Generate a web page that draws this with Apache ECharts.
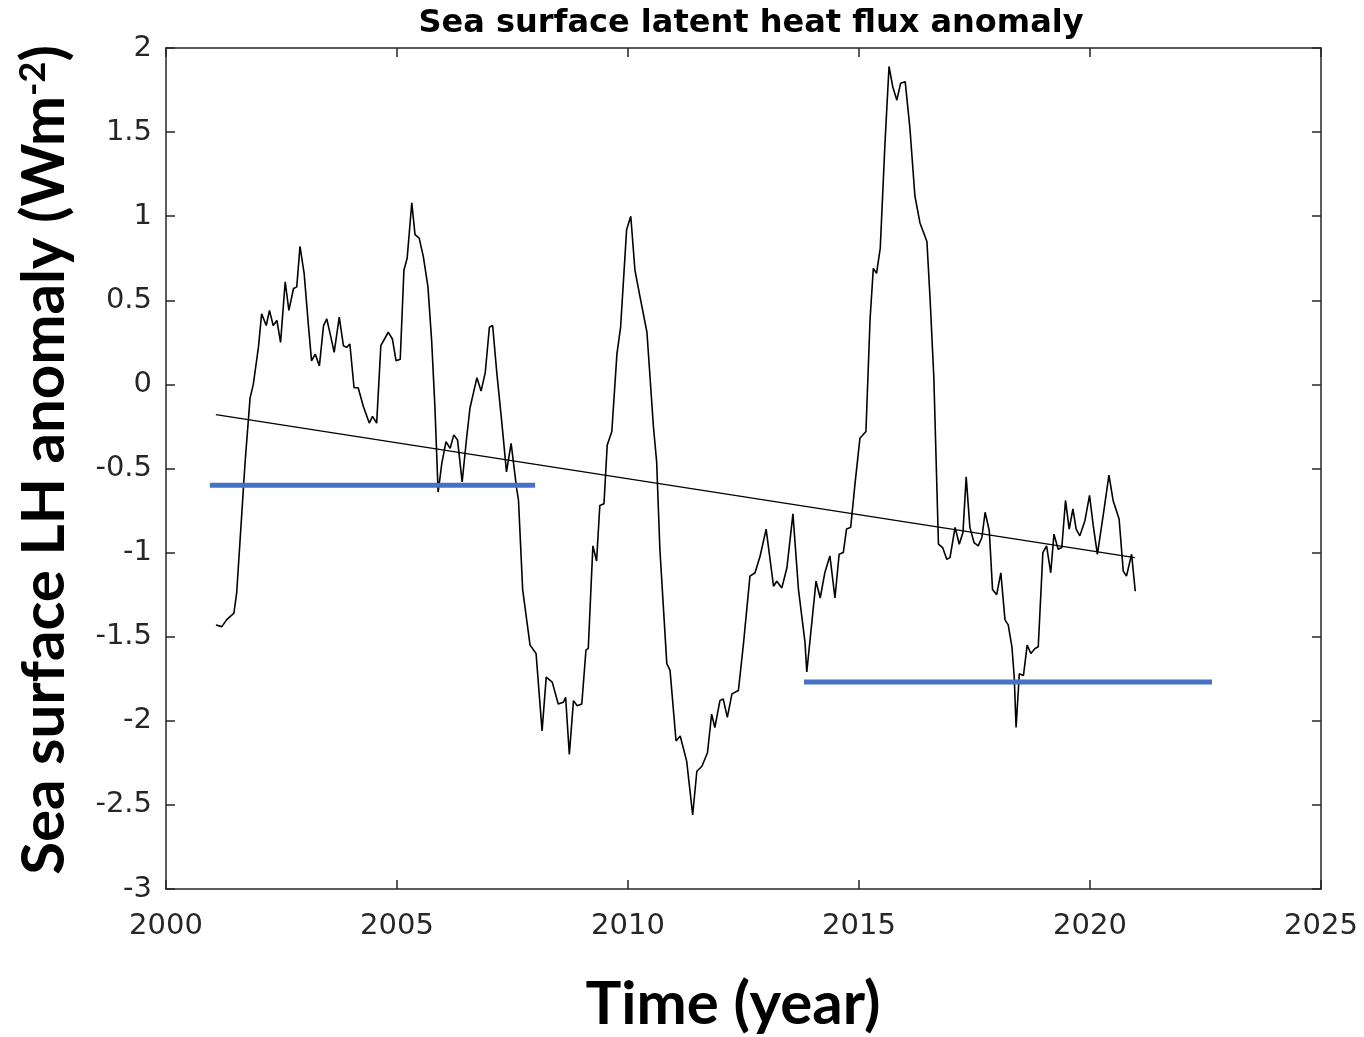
<!DOCTYPE html>
<html>
<head>
<meta charset="utf-8">
<script src="https://cdn.jsdelivr.net/npm/echarts@6/dist/echarts.min.js"></script>
<style>html,body{margin:0;padding:0;background:#fff;}#c{width:1364px;height:1037px;}</style>
</head>
<body>
<div id="c"></div>
<script>
// Time (decimal year)
const years = [
2001.08,2001.21,2001.31,2001.47,2001.53,2001.64,2001.71,2001.82,2001.89,2002.00,
2002.07,2002.17,2002.24,2002.32,2002.40,2002.48,2002.58,2002.66,2002.76,2002.83,
2002.90,2002.99,2003.08,2003.15,2003.23,2003.32,2003.41,2003.48,2003.57,2003.64,
2003.75,2003.84,2003.91,2003.98,2004.07,2004.16,2004.27,2004.40,2004.47,2004.56,
2004.65,2004.81,2004.90,2004.98,2005.07,2005.15,2005.22,2005.32,2005.39,2005.48,
2005.57,2005.67,2005.75,2005.82,2005.89,2005.97,2006.06,2006.15,2006.23,2006.31,
2006.41,2006.51,2006.58,2006.73,2006.82,2006.91,2007.00,2007.07,2007.16,2007.27,
2007.37,2007.47,2007.59,2007.63,2007.72,2007.88,2008.01,2008.14,2008.23,2008.36,
2008.49,2008.60,2008.65,2008.73,2008.82,2008.90,2009.00,2009.09,2009.14,2009.24,
2009.32,2009.39,2009.48,2009.55,2009.65,2009.76,2009.84,2009.97,2010.06,2010.15,
2010.26,2010.41,2010.55,2010.62,2010.69,2010.84,2010.91,2011.04,2011.13,2011.27,
2011.40,2011.49,2011.60,2011.72,2011.81,2011.88,2011.99,2012.06,2012.15,2012.25,
2012.39,2012.50,2012.64,2012.75,2012.86,2012.99,2013.15,2013.22,2013.33,2013.44,
2013.57,2013.69,2013.83,2013.87,2014.07,2014.16,2014.26,2014.37,2014.48,2014.57,
2014.66,2014.73,2014.82,2014.91,2015.02,2015.15,2015.24,2015.31,2015.38,2015.46,
2015.56,2015.65,2015.73,2015.82,2015.90,2016.00,2016.10,2016.21,2016.32,2016.47,
2016.54,2016.62,2016.72,2016.81,2016.90,2016.97,2017.08,2017.17,2017.25,2017.32,
2017.40,2017.49,2017.58,2017.66,2017.73,2017.82,2017.89,2017.98,2018.07,2018.16,
2018.23,2018.31,2018.36,2018.40,2018.47,2018.56,2018.64,2018.72,2018.81,2018.88,
2018.98,2019.06,2019.15,2019.22,2019.31,2019.39,2019.47,2019.55,2019.63,2019.70,
2019.78,2019.89,2019.99,2020.07,2020.16,2020.29,2020.41,2020.50,2020.63,2020.72,
2020.79,2020.90,2020.98
];
// Sea surface LH anomaly (W m^-2)
const anomaly = [
-1.43,-1.44,-1.40,-1.36,-1.24,-0.77,-0.47,-0.08,0.00,0.22,
0.42,0.35,0.44,0.35,0.38,0.25,0.61,0.44,0.57,0.58,
0.82,0.66,0.36,0.14,0.18,0.11,0.35,0.39,0.28,0.19,
0.40,0.23,0.22,0.24,-0.02,-0.02,-0.13,-0.23,-0.19,-0.23,
0.23,0.31,0.27,0.14,0.15,0.68,0.75,1.08,0.89,0.87,
0.76,0.58,0.26,-0.13,-0.64,-0.47,-0.34,-0.38,-0.30,-0.33,
-0.58,-0.31,-0.14,0.04,-0.04,0.07,0.34,0.35,0.07,-0.23,
-0.52,-0.35,-0.62,-0.69,-1.22,-1.55,-1.60,-2.06,-1.74,-1.77,
-1.90,-1.89,-1.86,-2.20,-1.88,-1.91,-1.90,-1.58,-1.57,-0.96,
-1.05,-0.72,-0.71,-0.36,-0.28,0.18,0.34,0.92,1.00,0.68,
0.52,0.31,-0.25,-0.46,-0.98,-1.66,-1.70,-2.12,-2.09,-2.24,
-2.56,-2.30,-2.27,-2.19,-1.96,-2.04,-1.88,-1.87,-1.98,-1.84,
-1.82,-1.54,-1.14,-1.12,-1.02,-0.86,-1.20,-1.17,-1.21,-1.09,
-0.77,-1.22,-1.53,-1.71,-1.17,-1.27,-1.12,-1.02,-1.27,-1.01,
-1.00,-0.86,-0.85,-0.60,-0.32,-0.28,0.39,0.69,0.66,0.81,
1.42,1.89,1.77,1.69,1.79,1.80,1.53,1.12,0.96,0.85,
0.50,0.04,-0.95,-0.97,-1.04,-1.03,-0.85,-0.95,-0.88,-0.55,
-0.85,-0.94,-0.96,-0.91,-0.76,-0.87,-1.22,-1.25,-1.12,-1.40,
-1.43,-1.56,-1.74,-2.04,-1.72,-1.73,-1.55,-1.60,-1.57,-1.56,
-1.00,-0.96,-1.12,-0.89,-0.98,-0.97,-0.69,-0.86,-0.74,-0.86,
-0.90,-0.81,-0.66,-0.84,-1.01,-0.77,-0.54,-0.69,-0.80,-1.11,
-1.14,-1.01,-1.23
];
// Linear trend endpoints
const trendYears = [2001.08, 2020.97];
const trendValues = [-0.18, -1.03];
// Horizontal reference levels (blue)
const level1Years = [2000.95, 2007.99];
const level1Value = -0.60;
const level2Years = [2013.81, 2022.64];
const level2Value = -1.77;

const title = 'Sea surface latent heat flux anomaly';
const xLabel = 'Time (year)';

const chart = echarts.init(document.getElementById('c'), null, {renderer: 'canvas'});
const axisCol = '#262626';
const tickFont = {fontFamily: 'DejaVu Sans, sans-serif', fontSize: 29, color: axisCol};
const axLine = {show: true, onZero: false, lineStyle: {color: axisCol, width: 1.5}};
const axTick = {show: true, inside: true, length: 9, lineStyle: {color: axisCol, width: 1.5}};

chart.setOption({
  animation: false,
  backgroundColor: '#fff',
  title: {
    text: title, left: 746, top: 3, textAlign: 'center',
    textStyle: {fontFamily: 'DejaVu Sans, sans-serif', fontWeight: 'bold', fontSize: 32, color: '#000'}
  },
  grid: {left: 166, right: 43, top: 48, bottom: 148, containLabel: false},
  xAxis: [
    {type: 'value', min: 2000, max: 2025, interval: 5, position: 'bottom',
     axisLine: axLine, axisTick: axTick, splitLine: {show: false},
     axisLabel: Object.assign({margin: 23, formatter: v => String(v)}, tickFont)},
    {type: 'value', min: 2000, max: 2025, interval: 5, position: 'top',
     axisLine: axLine, axisTick: axTick, splitLine: {show: false}, axisLabel: {show: false}}
  ],
  yAxis: [
    {type: 'value', min: -3, max: 2, interval: 0.5, position: 'left',
     axisLine: axLine, axisTick: axTick, splitLine: {show: false},
     axisLabel: Object.assign({margin: 14}, tickFont)},
    {type: 'value', min: -3, max: 2, interval: 0.5, position: 'right',
     axisLine: axLine, axisTick: axTick, splitLine: {show: false}, axisLabel: {show: false}}
  ],
  series: [
    {type: 'line', name: 'LH anomaly', data: years.map((y, i) => [y, anomaly[i]]),
     showSymbol: false, lineStyle: {color: '#000', width: 1.6}, z: 2},
    {type: 'line', name: 'trend', data: trendYears.map((y, i) => [y, trendValues[i]]),
     showSymbol: false, lineStyle: {color: '#000', width: 1.3}, z: 2},
    {type: 'line', name: 'level1', data: level1Years.map(y => [y, level1Value]),
     showSymbol: false, lineStyle: {color: '#4472C4', width: 5}, z: 3},
    {type: 'line', name: 'level2', data: level2Years.map(y => [y, level2Value]),
     showSymbol: false, lineStyle: {color: '#4472C4', width: 5}, z: 3}
  ],
  graphic: [
    {type: 'text', x: 733, y: 1005,
     style: {text: xLabel, font: 'bold 60px Lato, sans-serif', fill: '#000', align: 'center', verticalAlign: 'middle'}},
    {type: 'text', x: 45, y: 460, rotation: Math.PI / 2,
     style: {text: 'Sea surface LH anomaly (Wm{sup|-2})', font: 'bold 60px Lato, sans-serif', fill: '#000',
       align: 'center', verticalAlign: 'middle',
       rich: {sup: {font: 'bold 36px Lato, sans-serif', fill: '#000', verticalAlign: 'top', padding: [0, 0, 24, 0]}}}}
  ]
});
</script>
</body>
</html>
